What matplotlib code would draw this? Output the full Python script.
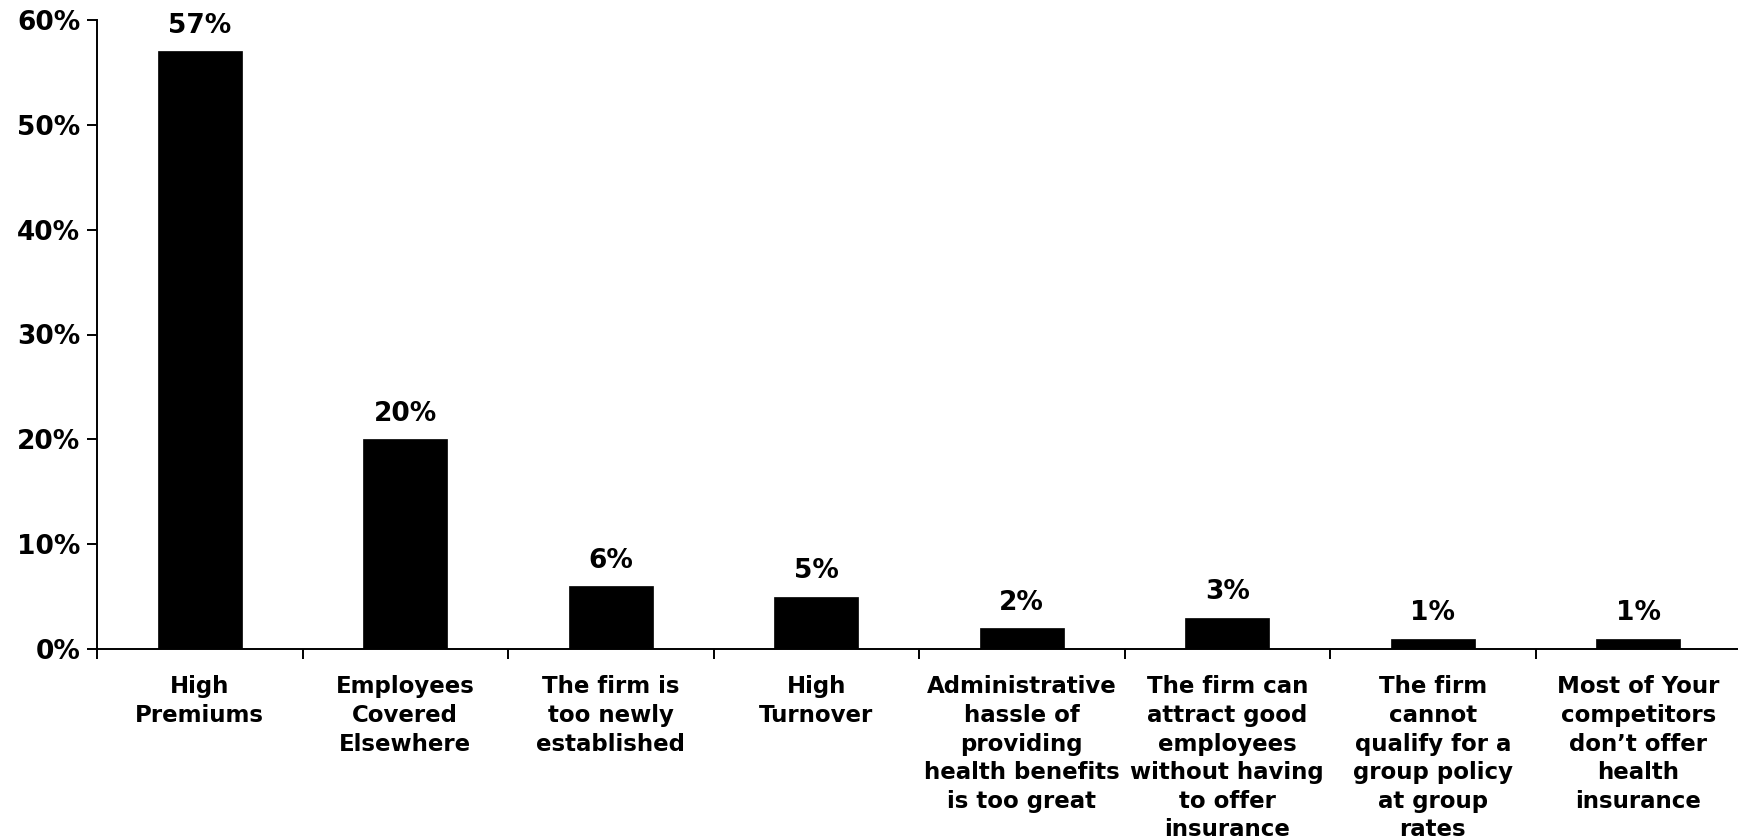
import matplotlib.pyplot as plt
import numpy as np
from matplotlib.ticker import FixedLocator, PercentFormatter

# reasons for not offering health insurance
categories = [
    "High\nPremiums",
    "Employees\nCovered\nElsewhere",
    "The firm is\ntoo newly\nestablished",
    "High\nTurnover",
    "Administrative\nhassle of\nproviding\nhealth benefits\nis too great",
    "The firm can\nattract good\nemployees\nwithout having\nto offer\ninsurance",
    "The firm\ncannot\nqualify for a\ngroup policy\nat group\nrates",
    "Most of Your\ncompetitors\ndon\u2019t offer\nhealth\ninsurance",
]
values = [57, 20, 6, 5, 2, 3, 1, 1]
yticks = [0, 10, 20, 30, 40, 50, 60]

plt.rcParams['font.family'] = ['DejaVu Sans']
plt.rcParams['font.weight'] = 'bold'

fig = plt.figure(figsize=(17.38, 8.4), dpi=100)
ax = fig.add_axes([97 / 1738, 1 - 649 / 840, (1741 - 97) / 1738, (649 - 20) / 840])

x = np.arange(len(categories))
ax.bar(x, values, width=0.41, color="black", edgecolor="black", linewidth=0.5)

# value labels above the bars
for xi, v in zip(x, values):
    ax.annotate(f"{v}%", (xi, v), xytext=(0, 9), textcoords="offset points",
                ha="center", va="bottom", fontsize=19, fontweight="bold")

ax.set_xlim(-0.5, len(categories) - 0.5)
ax.set_ylim(0, 60)
ax.set_yticks(yticks)
ax.yaxis.set_major_formatter(PercentFormatter(decimals=0))
ax.tick_params(axis="y", direction="out", length=7, width=1.4, labelsize=19, pad=5)

# category labels at centres, ticks at the boundaries
ax.set_xticks(x)
ax.set_xticklabels(categories, fontsize=16.5, fontweight="bold", linespacing=1.31, va="top")
ax.xaxis.set_minor_locator(FixedLocator(np.arange(-0.5, len(categories), 1.0)))
ax.tick_params(axis="x", which="major", length=0, pad=19)
ax.tick_params(axis="x", which="minor", direction="out", length=7, width=1.4)

for lab in ax.get_yticklabels():
    lab.set_fontweight("bold")

ax.spines["top"].set_visible(False)
ax.spines["right"].set_visible(False)
ax.spines["left"].set_linewidth(1.4)
ax.spines["bottom"].set_linewidth(1.4)

plt.savefig("out.png", dpi=100)
